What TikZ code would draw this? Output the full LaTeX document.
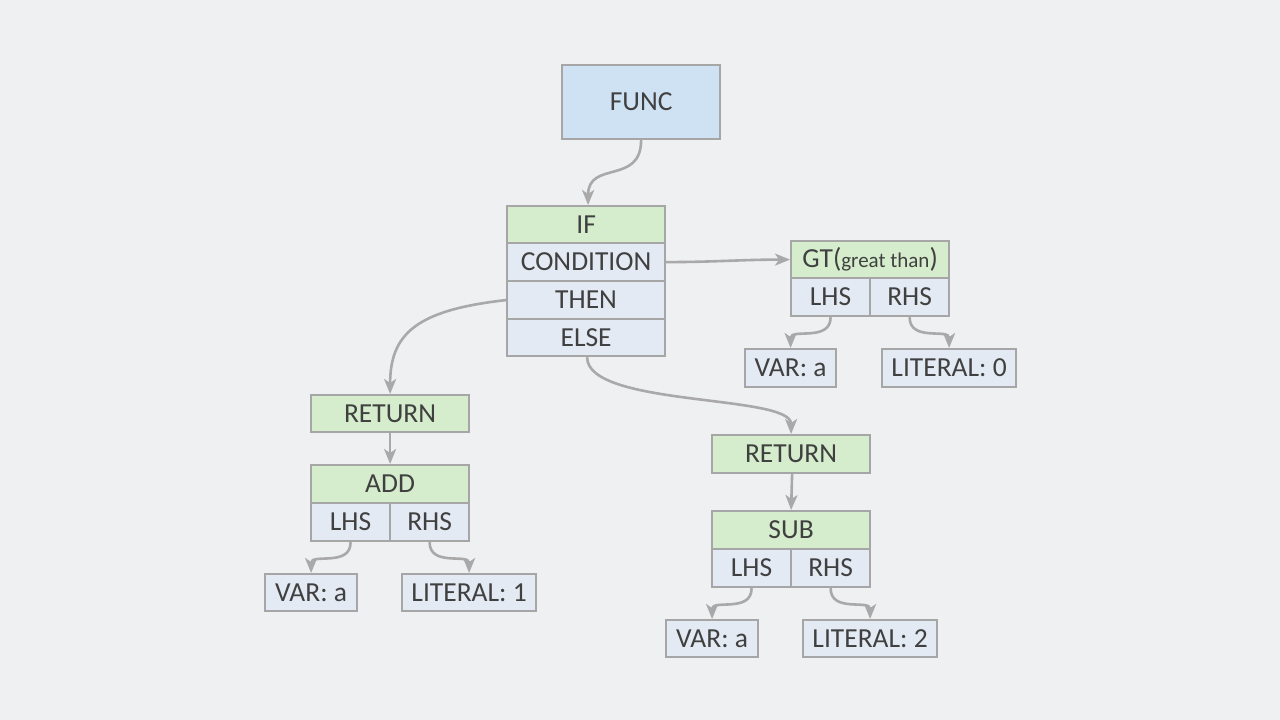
\documentclass[tikz,border=0pt]{standalone}
\usepackage{fontspec}
\setmainfont{Carlito}
\usetikzlibrary{arrows.meta}
\definecolor{bg}{HTML}{EFF0F2}
\definecolor{bordergray}{HTML}{A6A6A6}
\definecolor{txt}{HTML}{404040}
\definecolor{funcblue}{HTML}{CFE2F3}
\definecolor{hdrgreen}{HTML}{D5EDCC}
\definecolor{cellblue}{HTML}{E4EAF3}
\definecolor{linegray}{HTML}{A9A9A9}
\tikzset{
  box/.style={draw=bordergray, line width=2.2pt, inner sep=0pt, text=txt,
    font=\fontsize{27.5}{31}\selectfont, anchor=north west},
  hdr/.style={box, fill=hdrgreen},
  cell/.style={box, fill=cellblue},
  funcbox/.style={box, fill=funcblue},
  arr/.style={draw=linegray, line width=2.6pt, -{Stealth[length=15pt,width=12pt,inset=4pt]}},
}
\begin{document}
\begin{tikzpicture}[x=1pt,y=-1pt]
\fill[bg] (0,0) rectangle (1280,720);
\useasboundingbox (0,0) rectangle (1280,720);
% FUNC
\node[funcbox, minimum width=158pt, minimum height=74pt] (func) at (561,64) {FUNC};
% IF block
\node[hdr, minimum width=158pt, minimum height=37pt] (if) at (506,205) {IF};
\node[cell, minimum width=158pt, minimum height=38pt] (cond) at (506,242) {CONDITION};
\node[cell, minimum width=158pt, minimum height=38pt] (then) at (506,280) {THEN};
\node[cell, minimum width=158pt, minimum height=37pt] (else) at (506,318) {ELSE};
% GT block
\node[hdr, minimum width=158pt, minimum height=37pt] (gt) at (790,240) {GT({\fontsize{21}{24}\selectfont great than})};
\node[cell, minimum width=79pt, minimum height=38pt] (gtl) at (790,277) {LHS};
\node[cell, minimum width=79pt, minimum height=38pt] (gtr) at (869,277) {RHS};
\node[cell, minimum width=91pt, minimum height=38pt] (gtva) at (744,348) {VAR: a};
\node[cell, minimum width=134pt, minimum height=38pt] (gtlit) at (881,348) {LITERAL: 0};
% left RETURN / ADD
\node[hdr, minimum width=158pt, minimum height=37pt] (retl) at (310,394) {RETURN};
\node[hdr, minimum width=158pt, minimum height=38pt] (add) at (310,464) {ADD};
\node[cell, minimum width=79pt, minimum height=38pt] (addl) at (310,502) {LHS};
\node[cell, minimum width=79pt, minimum height=38pt] (addr) at (389,502) {RHS};
\node[cell, minimum width=92pt, minimum height=37pt] (addva) at (264,573) {VAR: a};
\node[cell, minimum width=134pt, minimum height=37pt] (addlit) at (401,573) {LITERAL: 1};
% right RETURN / SUB
\node[hdr, minimum width=158pt, minimum height=38pt] (retr) at (711,434) {RETURN};
\node[hdr, minimum width=158pt, minimum height=38pt] (sub) at (711,510) {SUB};
\node[cell, minimum width=79pt, minimum height=38pt] (subl) at (711,548) {LHS};
\node[cell, minimum width=79pt, minimum height=38pt] (subr) at (790,548) {RHS};
\node[cell, minimum width=92pt, minimum height=37pt] (subva) at (665,619) {VAR: a};
\node[cell, minimum width=134pt, minimum height=37pt] (sublit) at (802,619) {LITERAL: 2};
% connectors
\draw[arr] (func.south) .. controls +(0,45) and +(0,-45) .. ([xshift=2pt]if.north);
\draw[arr] (cond.east) to[out=0,in=180] (gt.west);
\draw[arr] (then.west) .. controls +(-90,10) and +(0,-60) .. (retl.north);
\draw[arr] ([xshift=1pt]else.south) .. controls +(0,50) and +(0,-40) .. (retr.north);
\draw[arr] (retl.south) -- (add.north);
\draw[arr] ([xshift=1pt]retr.south) -- (sub.north);
\draw[arr] (gtl.south) .. controls +(0,25) and +(0,-20) .. (gtva.north);
\draw[arr] (gtr.south) .. controls +(0,25) and +(0,-20) .. (gtlit.north);
\draw[arr] (addl.south) .. controls +(0,25) and +(0,-20) .. (addva.north);
\draw[arr] (addr.south) .. controls +(0,25) and +(0,-20) .. (addlit.north);
\draw[arr] (subl.south) .. controls +(0,25) and +(0,-20) .. (subva.north);
\draw[arr] (subr.south) .. controls +(0,25) and +(0,-20) .. (sublit.north);
\end{tikzpicture}
\end{document}
